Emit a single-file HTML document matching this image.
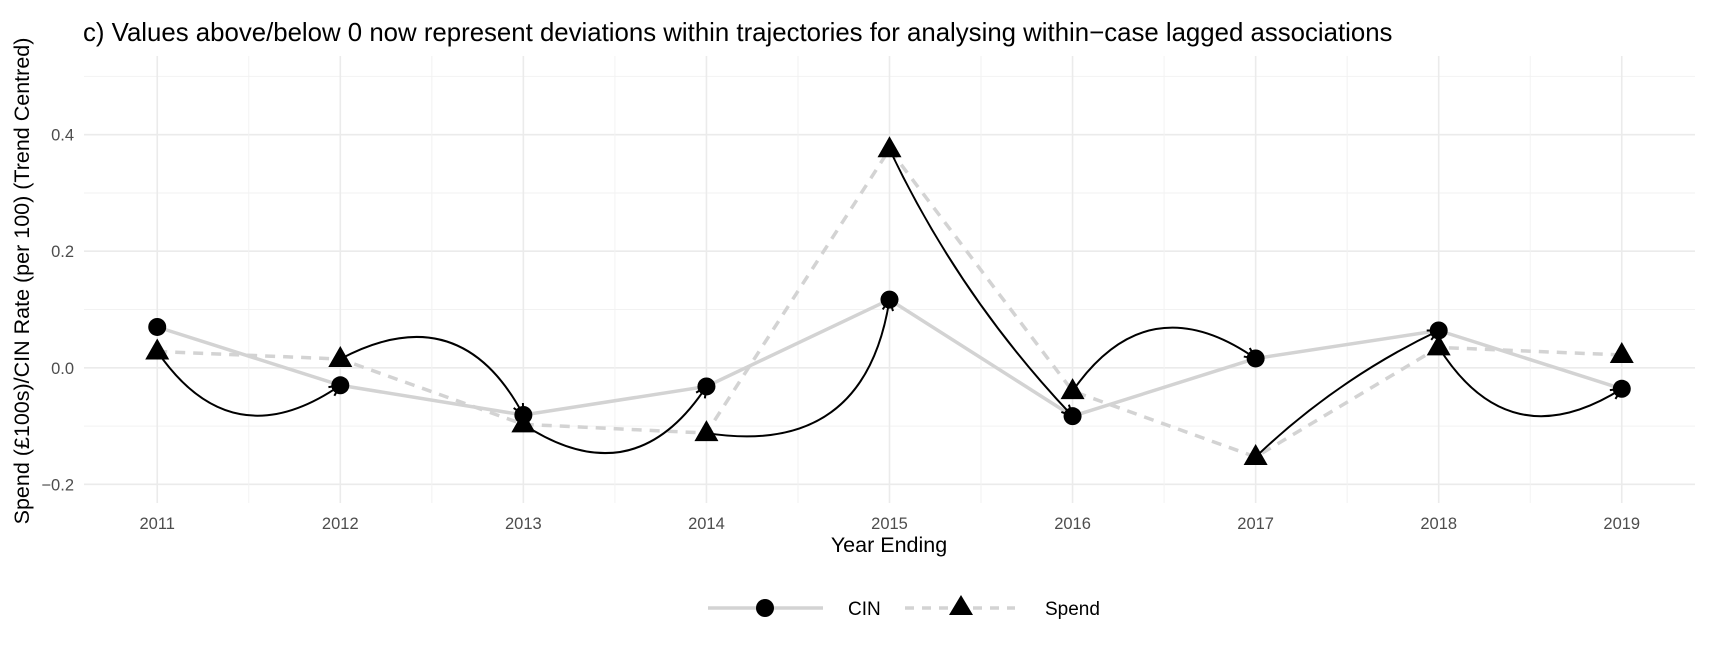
<!DOCTYPE html>
<html><head><meta charset="utf-8"><style>
body{margin:0;background:#fff;}
svg text{font-family:"Liberation Sans",Arial,sans-serif;}
</style></head><body>
<svg id="chart" width="1718" height="646" xmlns="http://www.w3.org/2000/svg">
<text x="83" y="41" font-size="25.8" fill="#000">c) Values above/below 0 now represent deviations within trajectories for analysing within−case lagged associations</text>
<g id="grid"></g>
<g id="series"></g>
<g id="axes"></g>
<text x="889" y="552" font-size="21.5" text-anchor="middle">Year Ending</text>
<text transform="translate(29,281) rotate(-90)" font-size="21.5" text-anchor="middle">Spend (£100s)/CIN Rate (per 100) (Trend Centred)</text>
<g>
<line x1="708" y1="608" x2="823" y2="608" stroke="#d3d3d3" stroke-width="3.5"/>
<circle cx="765" cy="608" r="9" fill="#000"/>
<text x="848" y="615" font-size="19">CIN</text>
<line x1="905" y1="608" x2="1015" y2="608" stroke="#d3d3d3" stroke-width="3.5" stroke-dasharray="9,8"/>
<polygon points="961,595 973,615 949,615" fill="#000"/>
<text x="1045" y="615" font-size="19">Spend</text>
</g>
</svg>
<script>
const years = [2011,2012,2013,2014,2015,2016,2017,2018,2019];
const cinValues = [0.070,-0.030,-0.081,-0.032,0.117,-0.083,0.016,0.064,-0.036];
const spendValues = [0.028,0.015,-0.097,-0.112,0.375,-0.040,-0.153,0.035,0.022];
const arrowCurvature = [0.5,-0.5,0.5,0.5,0.08,-0.5,-0.08,0.5];
const yTicks = [-0.2,0.0,0.2,0.4];
const yTickLabels = ["−0.2","0.0","0.2","0.4"];

const NS="http://www.w3.org/2000/svg";
const L=84,R=1695,T=56,B=503;
const xMin=2010.6,xMax=2019.4,yMin=-0.232,yMax=0.535;
const xs=v=>L+(v-xMin)/(xMax-xMin)*(R-L);
const ys=v=>B-(v-yMin)/(yMax-yMin)*(B-T);
function mk(tag,attrs,parent){const e=document.createElementNS(NS,tag);for(const k in attrs)e.setAttribute(k,attrs[k]);parent.appendChild(e);return e;}
const grid=document.getElementById('grid'),series=document.getElementById('series'),axes=document.getElementById('axes');
[-0.3,-0.1,0.1,0.3,0.5].forEach(v=>{const y=ys(v);if(y<T||y>B)return;
const g=mk('line',{x1:L,x2:R,y1:y,y2:y,stroke:'#f2f2f2','stroke-width':1},grid);

});
yTicks.forEach(v=>{const y=ys(v);const g=mk('line',{x1:L,x2:R,y1:y,y2:y,stroke:'#ebebeb','stroke-width':1.6},grid);

});
for(let i=0;i<years.length-1;i++){const x=xs(years[i]+0.5);const g=mk('line',{x1:x,x2:x,y1:T,y2:B,stroke:'#f2f2f2','stroke-width':1},grid);

}
years.forEach(yr=>{const x=xs(yr);const g=mk('line',{x1:x,x2:x,y1:T,y2:B,stroke:'#ebebeb','stroke-width':1.6},grid);


const t=mk('text',{x:x,y:529,'font-size':16.5,fill:'#4d4d4d','text-anchor':'middle'},axes);t.textContent=yr;

});
yTicks.forEach((v,i)=>{const t=mk('text',{x:74,y:ys(v)+6,'font-size':16.5,fill:'#4d4d4d','text-anchor':'end'},axes);t.textContent=yTickLabels[i];

});
const cinPts=years.map((y,i)=>xs(y)+','+ys(cinValues[i])).join(' ');
const spPts=years.map((y,i)=>xs(y)+','+ys(spendValues[i])).join(' ');
const sl=mk('polyline',{points:spPts,fill:'none',stroke:'#d3d3d3','stroke-width':3.5,'stroke-dasharray':'10,8'},series);


const cl=mk('polyline',{points:cinPts,fill:'none',stroke:'#d3d3d3','stroke-width':3.5},series);


for(let i=0;i<years.length-1;i++){
const x1=xs(years[i]),y1=ys(spendValues[i]),x2=xs(years[i+1]),y2=ys(cinValues[i+1]);
const dx=x2-x1,dy=y2-y1,c=arrowCurvature[i];
const cx=(x1+x2)/2+c*(-dy),cy=(y1+y2)/2+c*dx;
const p=mk('path',{d:`M${x1},${y1} Q${cx},${cy} ${x2},${y2}`,fill:'none',stroke:'#000','stroke-width':2},series);


const ang=Math.atan2(y2-cy,x2-cx),h=12,a=0.45;
const hp=`M${x2-h*Math.cos(ang-a)},${y2-h*Math.sin(ang-a)} L${x2},${y2} L${x2-h*Math.cos(ang+a)},${y2-h*Math.sin(ang+a)}`;
const hd=mk('path',{d:hp,fill:'none',stroke:'#000','stroke-width':2},series);

}
years.forEach((yr,i)=>{const x=xs(yr);
const c=mk('circle',{cx:x,cy:ys(cinValues[i]),r:9,fill:'#000'},series);


const y=ys(spendValues[i]);
const t=mk('polygon',{points:`${x},${y-13} ${x+12},${y+8} ${x-12},${y+8}`,fill:'#000'},series);

});
</script>
</body></html>
